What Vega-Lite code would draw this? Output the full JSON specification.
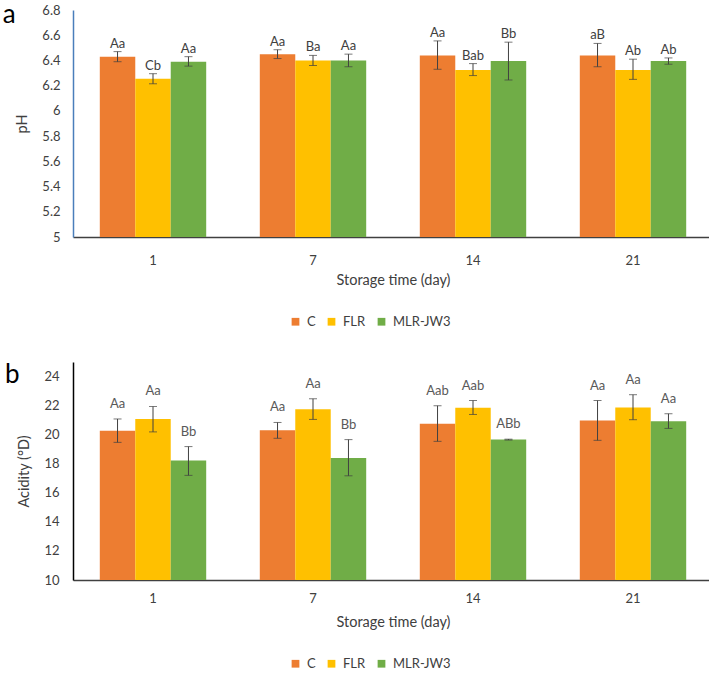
{
  "$schema": "https://vega.github.io/schema/vega-lite/v6.json",
  "padding": {"left": 2, "top": 2, "right": 1, "bottom": 0},
  "config": {
    "view": {"stroke": null},
    "font": "Lato",
    "axis": {"grid": false, "ticks": false, "labelFont": "Lato", "titleFont": "Lato", "labelColor": "#404040", "titleColor": "#404040", "titleFontWeight": "normal", "labelFontSize": 13, "titleFontSize": 14.5},
    "legend": {"labelFont": "Lato", "labelFontSize": 13, "labelColor": "#404040"},
    "title": {"font": "Lato", "fontWeight": "normal", "fontSize": 26, "color": "#000000"}
  },
  "datasets": {
    "ph": [
      {"day": "1", "group": "C", "mean": 6.43, "lo": 6.39, "hi": 6.47, "label": "Aa"},
      {"day": "1", "group": "FLR", "mean": 6.255, "lo": 6.215, "hi": 6.295, "label": "Cb"},
      {"day": "1", "group": "MLR-JW3", "mean": 6.39, "lo": 6.355, "hi": 6.43, "label": "Aa"},
      {"day": "7", "group": "C", "mean": 6.45, "lo": 6.415, "hi": 6.485, "label": "Aa"},
      {"day": "7", "group": "FLR", "mean": 6.4, "lo": 6.36, "hi": 6.44, "label": "Ba"},
      {"day": "7", "group": "MLR-JW3", "mean": 6.4, "lo": 6.35, "hi": 6.45, "label": "Aa"},
      {"day": "14", "group": "C", "mean": 6.44, "lo": 6.33, "hi": 6.555, "label": "Aa"},
      {"day": "14", "group": "FLR", "mean": 6.325, "lo": 6.28, "hi": 6.375, "label": "Bab"},
      {"day": "14", "group": "MLR-JW3", "mean": 6.395, "lo": 6.245, "hi": 6.545, "label": "Bb"},
      {"day": "21", "group": "C", "mean": 6.44, "lo": 6.35, "hi": 6.535, "label": "aB"},
      {"day": "21", "group": "FLR", "mean": 6.325, "lo": 6.25, "hi": 6.41, "label": "Ab"},
      {"day": "21", "group": "MLR-JW3", "mean": 6.395, "lo": 6.37, "hi": 6.42, "label": "Ab"}
    ],
    "acid": [
      {"day": "1", "group": "C", "mean": 20.27, "lo": 19.47, "hi": 21.08, "label": "Aa"},
      {"day": "1", "group": "FLR", "mean": 21.08, "lo": 20.19, "hi": 21.94, "label": "Aa"},
      {"day": "1", "group": "MLR-JW3", "mean": 18.22, "lo": 17.2, "hi": 19.18, "label": "Bb"},
      {"day": "7", "group": "C", "mean": 20.3, "lo": 19.75, "hi": 20.84, "label": "Aa"},
      {"day": "7", "group": "FLR", "mean": 21.75, "lo": 21.05, "hi": 22.47, "label": "Aa"},
      {"day": "7", "group": "MLR-JW3", "mean": 18.4, "lo": 17.17, "hi": 19.66, "label": "Bb"},
      {"day": "14", "group": "C", "mean": 20.75, "lo": 19.54, "hi": 21.99, "label": "Aab"},
      {"day": "14", "group": "FLR", "mean": 21.85, "lo": 21.39, "hi": 22.35, "label": "Aab"},
      {"day": "14", "group": "MLR-JW3", "mean": 19.66, "lo": 19.63, "hi": 19.69, "label": "ABb"},
      {"day": "21", "group": "C", "mean": 20.98, "lo": 19.61, "hi": 22.35, "label": "Aa"},
      {"day": "21", "group": "FLR", "mean": 21.87, "lo": 21.03, "hi": 22.75, "label": "Aa"},
      {"day": "21", "group": "MLR-JW3", "mean": 20.93, "lo": 20.43, "hi": 21.44, "label": "Aa"}
    ]
  },
  "vconcat": [
    {
      "title": {"text": "a", "anchor": "start", "frame": "bounds", "dx": -12, "dy": 28},
      "width": 640,
      "height": 227,
      "data": {"name": "ph"},
      "encoding": {
        "x": {"field": "day", "type": "ordinal", "sort": ["1", "7", "14", "21"], "scale": {"paddingInner": 0.335, "paddingOuter": 0.1675},
              "axis": {"title": "Storage time (day)", "labelAngle": 0, "labelPadding": 17, "titlePadding": 6, "domainColor": "#404040", "domainWidth": 1.5}},
        "xOffset": {"field": "group", "type": "nominal", "sort": ["C", "FLR", "MLR-JW3"], "scale": {"paddingInner": 0, "paddingOuter": 0}}
      },
      "layer": [
        {
          "mark": {"type": "bar", "clip": true},
          "encoding": {
            "y": {"field": "mean", "type": "quantitative", "scale": {"domain": [5, 6.8], "zero": false, "nice": false},
                  "axis": {"title": "pH", "values": [5, 5.2, 5.4, 5.6, 5.8, 6, 6.2, 6.4, 6.6, 6.8], "format": "~g", "labelPadding": 13, "titlePadding": 12, "domainColor": "#4a7ebb", "domainWidth": 1.5}},
            "y2": {"datum": 5},
            "color": {"field": "group", "type": "nominal", "sort": ["C", "FLR", "MLR-JW3"],
                      "scale": {"domain": ["C", "FLR", "MLR-JW3"], "range": ["#ED7D31", "#FFC000", "#70AD47"]},
                      "legend": {"title": null, "orient": "none", "legendX": 216, "legendY": 305, "direction": "horizontal", "symbolType": "square", "symbolSize": 60, "symbolStrokeWidth": 0, "columnPadding": 9, "labelOffset": 5}}
          }
        },
        {
          "mark": {"type": "rule", "color": "#404040", "strokeWidth": 1},
          "encoding": {"y": {"field": "lo", "type": "quantitative", "scale": {"domain": [5, 6.8], "zero": false, "nice": false},
                  "axis": {"title": "pH", "values": [5, 5.2, 5.4, 5.6, 5.8, 6, 6.2, 6.4, 6.6, 6.8], "format": "~g", "labelPadding": 13, "titlePadding": 12, "domainColor": "#4a7ebb", "domainWidth": 1.5}}, "y2": {"field": "hi"}}
        },
        {
          "mark": {"type": "tick", "color": "#404040", "thickness": 1, "size": 8, "orient": "horizontal"},
          "encoding": {"y": {"field": "lo", "type": "quantitative", "scale": {"domain": [5, 6.8], "zero": false, "nice": false},
                  "axis": {"title": "pH", "values": [5, 5.2, 5.4, 5.6, 5.8, 6, 6.2, 6.4, 6.6, 6.8], "format": "~g", "labelPadding": 13, "titlePadding": 12, "domainColor": "#4a7ebb", "domainWidth": 1.5}}}
        },
        {
          "mark": {"type": "tick", "color": "#404040", "thickness": 1, "size": 8, "orient": "horizontal"},
          "encoding": {"y": {"field": "hi", "type": "quantitative", "scale": {"domain": [5, 6.8], "zero": false, "nice": false},
                  "axis": {"title": "pH", "values": [5, 5.2, 5.4, 5.6, 5.8, 6, 6.2, 6.4, 6.6, 6.8], "format": "~g", "labelPadding": 13, "titlePadding": 12, "domainColor": "#4a7ebb", "domainWidth": 1.5}}}
        },
        {
          "mark": {"type": "text", "baseline": "bottom", "dy": -1, "fontSize": 13, "color": "#404040"},
          "encoding": {"y": {"field": "hi", "type": "quantitative", "scale": {"domain": [5, 6.8], "zero": false, "nice": false},
                  "axis": {"title": "pH", "values": [5, 5.2, 5.4, 5.6, 5.8, 6, 6.2, 6.4, 6.6, 6.8], "format": "~g", "labelPadding": 13, "titlePadding": 12, "domainColor": "#4a7ebb", "domainWidth": 1.5}}, "text": {"field": "label"}}
        }
      ]
    },
    {
      "title": {"text": "b", "anchor": "start", "frame": "bounds", "dx": -12, "dy": 30},
      "width": 640,
      "height": 218,
      "data": {"name": "acid"},
      "encoding": {
        "x": {"field": "day", "type": "ordinal", "sort": ["1", "7", "14", "21"], "scale": {"paddingInner": 0.335, "paddingOuter": 0.1675},
              "axis": {"title": "Storage time  (day)", "labelAngle": 0, "labelPadding": 12, "titlePadding": 10, "domainColor": "#404040", "domainWidth": 1.5}},
        "xOffset": {"field": "group", "type": "nominal", "sort": ["C", "FLR", "MLR-JW3"], "scale": {"paddingInner": 0, "paddingOuter": 0}}
      },
      "layer": [
        {
          "mark": {"type": "bar", "clip": true},
          "encoding": {
            "y": {"field": "mean", "type": "quantitative", "scale": {"domain": [10, 25], "zero": false, "nice": false},
                  "axis": {"title": "Acidity (°D)", "values": [10, 12, 14, 16, 18, 20, 22, 24], "labelPadding": 14, "titlePadding": 12, "domainColor": "#000000", "domainWidth": 1.5}},
            "y2": {"datum": 10},
            "color": {"field": "group", "type": "nominal", "sort": ["C", "FLR", "MLR-JW3"],
                      "scale": {"domain": ["C", "FLR", "MLR-JW3"], "range": ["#ED7D31", "#FFC000", "#70AD47"]},
                      "legend": {"title": null, "orient": "none", "legendX": 216, "legendY": 295, "direction": "horizontal", "symbolType": "square", "symbolSize": 60, "symbolStrokeWidth": 0, "columnPadding": 9, "labelOffset": 5}}
          }
        },
        {
          "mark": {"type": "rule", "color": "#404040", "strokeWidth": 1},
          "encoding": {"y": {"field": "lo", "type": "quantitative", "scale": {"domain": [10, 25], "zero": false, "nice": false},
                  "axis": {"title": "Acidity (°D)", "values": [10, 12, 14, 16, 18, 20, 22, 24], "labelPadding": 14, "titlePadding": 12, "domainColor": "#000000", "domainWidth": 1.5}}, "y2": {"field": "hi"}}
        },
        {
          "mark": {"type": "tick", "color": "#404040", "thickness": 1, "size": 8, "orient": "horizontal"},
          "encoding": {"y": {"field": "lo", "type": "quantitative", "scale": {"domain": [10, 25], "zero": false, "nice": false},
                  "axis": {"title": "Acidity (°D)", "values": [10, 12, 14, 16, 18, 20, 22, 24], "labelPadding": 14, "titlePadding": 12, "domainColor": "#000000", "domainWidth": 1.5}}}
        },
        {
          "mark": {"type": "tick", "color": "#404040", "thickness": 1, "size": 8, "orient": "horizontal"},
          "encoding": {"y": {"field": "hi", "type": "quantitative", "scale": {"domain": [10, 25], "zero": false, "nice": false},
                  "axis": {"title": "Acidity (°D)", "values": [10, 12, 14, 16, 18, 20, 22, 24], "labelPadding": 14, "titlePadding": 12, "domainColor": "#000000", "domainWidth": 1.5}}}
        },
        {
          "mark": {"type": "text", "baseline": "bottom", "dy": -8, "fontSize": 13, "color": "#595959"},
          "encoding": {"y": {"field": "hi", "type": "quantitative", "scale": {"domain": [10, 25], "zero": false, "nice": false},
                  "axis": {"title": "Acidity (°D)", "values": [10, 12, 14, 16, 18, 20, 22, 24], "labelPadding": 14, "titlePadding": 12, "domainColor": "#000000", "domainWidth": 1.5}}, "text": {"field": "label"}}
        }
      ]
    }
  ],
  "resolve": {"scale": {"color": "independent"}},
  "spacing": 33
}
